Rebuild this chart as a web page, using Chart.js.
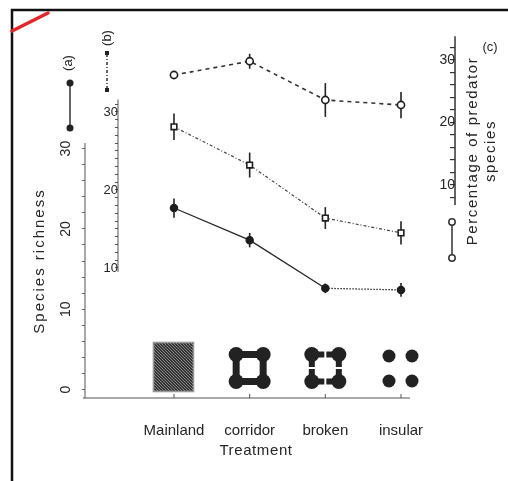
<!DOCTYPE html>
<html>
<head>
<meta charset="utf-8">
<script src="https://cdn.jsdelivr.net/npm/chart.js@4.4.1/dist/chart.umd.min.js"></script>
<style>
  html, body { margin: 0; padding: 0; background: #fff; }
</style>
</head>
<body>
<canvas id="chart" width="508" height="481"></canvas>
<script>
// treatments along the x axis
const treatments = ['Mainland', 'corridor', 'broken', 'insular'];

// (a) species richness, filled symbols
const richnessA = [22.6, 18.6, 12.6, 12.4];
const richnessAErr = [1.2, 0.9, 0.6, 0.85];

// (b) species richness on the inner axis, open squares
const richnessB = [28.1, 23.2, 16.4, 14.5];
const richnessBErr = [1.7, 1.6, 1.4, 1.5];

// (c) percentage of predator species, open circles
const predatorPct = [27.6, 29.8, 23.6, 22.8];
const predatorPctErr = [0, 1.2, 2.7, 2.1];

// labelled ticks on each y axis
const ticksA = [0, 10, 20, 30];
const ticksB = [10, 20, 30];
const ticksC = [10, 20, 30];

const FONT = '"Liberation Sans", Arial, sans-serif';
const INK = '#262626';

function toPoints(values) {
    return values.map((v, i) => ({ x: i, y: v }));
}

function line(ctx, x1, y1, x2, y2) {
    ctx.beginPath();
    ctx.moveTo(x1, y1);
    ctx.lineTo(x2, y2);
    ctx.stroke();
}

function dot(ctx, x, y, r) {
    ctx.beginPath();
    ctx.arc(x, y, r, 0, Math.PI * 2);
    ctx.fill();
}

function stepTicks(from, to, step) {
    const out = [];
    for (let v = from; v <= to + 1e-9; v += step) out.push({ value: v });
    return out;
}

function rotText(ctx, text, x, y, spacing) {
    ctx.save();
    ctx.translate(x, y);
    ctx.rotate(-Math.PI / 2);
    ctx.letterSpacing = spacing || '0px';
    ctx.fillText(text, 0, 0);
    ctx.restore();
}

// the little landscape pictures above each treatment
function drawIcons(ctx, xs, y0) {
    ctx.save();
    // Mainland: hatched block
    let cx = xs.getPixelForValue(0);
    const left = cx - 21, top = y0 - 56, w = 41, h = 50;
    ctx.fillStyle = '#353535';
    ctx.fillRect(left, top, w, h);
    ctx.save();
    ctx.beginPath();
    ctx.rect(left, top, w, h);
    ctx.clip();
    ctx.strokeStyle = '#858585';
    ctx.lineWidth = 1;
    for (let k = -h; k < w + h; k += 3) line(ctx, left + k, top, left + k + h, top + h);
    ctx.restore();
    ctx.strokeStyle = '#999';
    ctx.strokeRect(left + 0.5, top + 0.5, w - 1, h - 1);

    // corridor and broken: four patches joined in a ring
    ctx.fillStyle = '#222';
    ctx.strokeStyle = '#222';
    [1, 2].forEach(i => {
        const c = xs.getPixelForValue(i);
        const cy = y0 - 30, d = 13.5;
        const gap = i === 2 ? 1 : 0;
        ctx.lineWidth = i === 2 ? 6 : 7;
        const xl = c - d, xr = c + d, yt = cy - d, yb = cy + d;
        const seg = (ax, ay, bx, by) => {
            if (!gap) { line(ctx, ax, ay, bx, by); return; }
            const mx = (ax + bx) / 2, my = (ay + by) / 2;
            const ux = Math.sign(bx - ax), uy = Math.sign(by - ay);
            line(ctx, ax, ay, mx - ux * gap, my - uy * gap);
            line(ctx, mx + ux * gap, my + uy * gap, bx, by);
        };
        seg(xl, yt, xr, yt);
        seg(xr, yt, xr, yb);
        seg(xl, yb, xr, yb);
        seg(xl, yt, xl, yb);
        dot(ctx, xl, yt, 7.5); dot(ctx, xr, yt, 7.5);
        dot(ctx, xl, yb, 7.5); dot(ctx, xr, yb, 7.5);
    });

    // insular: four separate patches
    cx = xs.getPixelForValue(3);
    dot(ctx, cx - 12, y0 - 42, 6.5); dot(ctx, cx + 11, y0 - 42, 6.5);
    dot(ctx, cx - 12, y0 - 17, 6.5); dot(ctx, cx + 11, y0 - 17, 6.5);
    ctx.restore();
}

const figurePlugin = {
    id: 'figure',
    beforeDraw(chart) {
        const ctx = chart.ctx;
        ctx.save();
        ctx.fillStyle = '#fff';
        ctx.fillRect(0, 0, chart.width, chart.height);
        ctx.restore();
    },
    beforeDatasetsDraw(chart) {
        const { ctx, scales: { x, yA, yB, yC } } = chart;
        ctx.save();
        ctx.strokeStyle = '#555';
        ctx.lineWidth = 1;

        // axis (a) and the treatment baseline
        const xa = x.getPixelForValue(x.min);
        const y0 = yA.getPixelForValue(yA.min);
        line(ctx, xa, yA.getPixelForValue(30.7), xa, y0);
        line(ctx, xa - 2, y0, x.right, y0);
        treatments.forEach((t, i) => {
            const px = x.getPixelForValue(i);
            line(ctx, px, y0, px, y0 - 4);
        });

        // axis (b)
        const xb = x.getPixelForValue(-0.74);
        line(ctx, xb, yB.getPixelForValue(9.5), xb, yB.getPixelForValue(31.6));

        // axis (c)
        const xc = x.getPixelForValue(3.714);
        ctx.lineWidth = 1.5;
        ctx.strokeStyle = '#333';
        line(ctx, xc, yC.getPixelForValue(6.8), xc, yC.getPixelForValue(33.8));

        // error bars
        ctx.strokeStyle = '#222';
        ctx.lineWidth = 1.6;
        [[richnessA, richnessAErr, yA], [richnessB, richnessBErr, yB], [predatorPct, predatorPctErr, yC]]
            .forEach(([vals, errs, ys]) => {
                vals.forEach((v, i) => {
                    if (!errs[i]) return;
                    const px = x.getPixelForValue(i);
                    line(ctx, px, ys.getPixelForValue(v - errs[i]), px, ys.getPixelForValue(v + errs[i]));
                });
            });

        drawIcons(ctx, x, y0);
        ctx.restore();
    },
    afterDraw(chart) {
        const { ctx, scales: { x, yA } } = chart;
        ctx.save();
        ctx.fillStyle = INK;
        ctx.textAlign = 'center';
        ctx.textBaseline = 'middle';

        // axis (a) tick labels, printed sideways
        ctx.font = '14px ' + FONT;
        const xa = x.getPixelForValue(x.min);
        ticksA.forEach(v => rotText(ctx, String(v), xa - 19, yA.getPixelForValue(v)));

        // axis titles
        ctx.font = '15px ' + FONT;
        rotText(ctx, 'Species richness', 40, 261, '2px');
        rotText(ctx, 'Percentage of predator', 473, 151, '1.6px');
        rotText(ctx, 'species', 491, 151, '1.6px');
        ctx.save();
        ctx.letterSpacing = '0.6px';
        ctx.fillText('Treatment', 256, 451);
        ctx.restore();

        // panel keys
        ctx.font = '13px ' + FONT;
        rotText(ctx, '(a)', 68, 63);
        rotText(ctx, '(b)', 107, 38);
        ctx.fillText('(c)', 490, 47);

        ctx.strokeStyle = '#333';
        ctx.fillStyle = '#222';
        ctx.lineWidth = 1.5;
        line(ctx, 70, 83, 70, 128);
        dot(ctx, 70, 83, 3.5);
        dot(ctx, 70, 128, 3.5);

        ctx.save();
        ctx.setLineDash([3, 2, 1, 2]);
        line(ctx, 107, 54, 107, 89);
        ctx.restore();
        ctx.fillRect(105, 51, 4, 4);
        ctx.fillRect(105, 88, 4, 4);

        line(ctx, 452, 225, 452, 255);
        ctx.fillStyle = '#fff';
        [222, 258].forEach(yy => {
            ctx.beginPath();
            ctx.arc(452, yy, 3.2, 0, Math.PI * 2);
            ctx.fill();
            ctx.stroke();
        });

        // scan frame and pen mark
        ctx.strokeStyle = '#111';
        ctx.lineWidth = 2.5;
        ctx.beginPath();
        ctx.moveTo(12, 481);
        ctx.lineTo(12, 10);
        ctx.lineTo(508, 10);
        ctx.stroke();
        ctx.strokeStyle = '#e3262a';
        ctx.lineWidth = 3.5;
        ctx.lineCap = 'round';
        line(ctx, 12, 31, 48, 13);
        ctx.restore();
    }
};

const yAmin = -1.058, yAmax = 44.77;

new Chart(document.getElementById('chart'), {
    type: 'line',
    data: {
        datasets: [
            {
                label: '(a)',
                data: toPoints(richnessA),
                yAxisID: 'yA',
                borderColor: INK,
                borderWidth: 1.3,
                pointStyle: 'circle',
                pointRadius: 3.6,
                pointBackgroundColor: '#1e1e1e',
                pointBorderColor: '#1e1e1e',
                segment: {
                    borderDash: c => c.p0DataIndex === 2 ? [1.5, 1.5] : undefined
                }
            },
            {
                label: '(b)',
                data: toPoints(richnessB),
                yAxisID: 'yB',
                borderColor: '#444',
                borderWidth: 1.2,
                borderDash: [3, 2, 1, 2],
                pointStyle: 'rect',
                pointRadius: 4,
                pointBackgroundColor: '#fff',
                pointBorderColor: '#1e1e1e',
                pointBorderWidth: 1.6
            },
            {
                label: '(c)',
                data: toPoints(predatorPct),
                yAxisID: 'yC',
                borderColor: '#333',
                borderWidth: 1.6,
                borderDash: [4, 4],
                pointStyle: 'circle',
                pointRadius: 3.6,
                pointBackgroundColor: '#fff',
                pointBorderColor: '#1e1e1e',
                pointBorderWidth: 1.6
            }
        ]
    },
    options: {
        responsive: false,
        animation: false,
        devicePixelRatio: 1,
        layout: { padding: { left: 85, right: 98, top: 30, bottom: 83 } },
        plugins: {
            legend: { display: false },
            tooltip: { enabled: false }
        },
        scales: {
            x: {
                type: 'linear',
                min: -1.176,
                max: 3.119,
                position: { yA: yAmin },
                border: { display: false },
                grid: { display: false },
                afterBuildTicks: axis => { axis.ticks = treatments.map((t, i) => ({ value: i })); },
                ticks: {
                    autoSkip: false,
                    padding: 16,
                    maxRotation: 0,
                    color: INK,
                    font: { family: FONT, size: 15 },
                    callback: v => treatments[v]
                }
            },
            yA: {
                type: 'linear',
                bounds: 'data',
                min: yAmin,
                max: yAmax,
                position: { x: -1.176 },
                border: { display: false },
                grid: { drawOnChartArea: false, tickLength: 3, color: '#666' },
                afterBuildTicks: axis => { axis.ticks = stepTicks(0, 30, 2); },
                ticks: { display: false, autoSkip: false }
            },
            yB: {
                type: 'linear',
                bounds: 'data',
                min: -6.667,
                max: 40.51,
                position: { x: -0.74 },
                border: { display: false },
                grid: { drawOnChartArea: false, tickLength: 3, color: '#555' },
                afterBuildTicks: axis => { axis.ticks = stepTicks(10, 31, 1); },
                ticks: {
                    autoSkip: false,
                    padding: 3,
                    color: INK,
                    font: { family: FONT, size: 13 },
                    callback: v => ticksB.includes(v) ? String(v) : ''
                }
            },
            yC: {
                type: 'linear',
                bounds: 'data',
                min: -24.08,
                max: 34.8,
                position: { x: 3.714 },
                border: { display: false },
                grid: { drawOnChartArea: false, tickLength: 5, color: '#333', lineWidth: 1.2 },
                afterBuildTicks: axis => { axis.ticks = stepTicks(8, 32, 2); },
                ticks: {
                    autoSkip: false,
                    padding: 3,
                    color: INK,
                    font: { family: FONT, size: 14 },
                    callback: v => ticksC.includes(v) ? String(v) : ''
                }
            }
        }
    },
    plugins: [figurePlugin]
});
</script>
</body>
</html>
